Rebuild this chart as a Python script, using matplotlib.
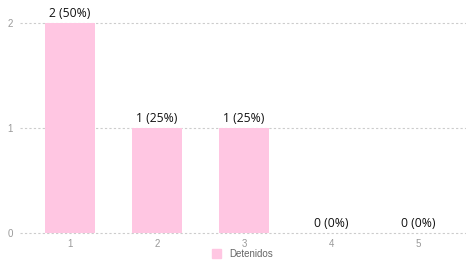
import matplotlib
matplotlib.use("Agg")
import matplotlib.pyplot as plt
from matplotlib.patches import Patch

categories = ["1", "2", "3", "4", "5"]
values = [2, 1, 1, 0, 0]
labels = ["2 (50%)", "1 (25%)", "1 (25%)", "0 (0%)", "0 (0%)"]
series_name = "Detenidos"
yticks = [0, 1, 2]

bar_color = "#ffc6e2"

fig = plt.figure(figsize=(4.66, 2.61), dpi=100)
ax = fig.add_axes([20 / 466, 0.107, 446 / 466, 0.805])

x = list(range(1, len(categories) + 1))
ax.bar(x, values, width=0.58, color=bar_color, zorder=2)

for xi, v, lab in zip(x, values, labels):
    ax.text(xi, v + 0.03, lab, ha="center", va="bottom", fontsize=8.7,
            family="Open Sans", color="#111111", clip_on=False, zorder=3)

ax.set_xlim(0.425, 5.55)
ax.set_ylim(0, 2)
ax.set_yticks(yticks)
ax.set_xticks(x)
ax.set_xticklabels(categories)
ax.grid(axis="y", color="#cccccc", linestyle=(0, (2, 2)), linewidth=0.8, zorder=1)
for gl in ax.get_ygridlines():
    gl.set_clip_on(False)
ax.set_axisbelow(True)
for s in ax.spines.values():
    s.set_visible(False)
ax.tick_params(axis="both", length=0, labelsize=7, labelcolor="#999999")
for t in ax.get_xticklabels() + ax.get_yticklabels():
    t.set_family("Liberation Sans")
ax.tick_params(axis="y", pad=5)
ax.tick_params(axis="x", pad=4)

fig.legend(handles=[Patch(color=bar_color, label=series_name)], loc="lower center",
           bbox_to_anchor=(0.52, -0.025), frameon=False,
           handlelength=1.0, handleheight=1.0, prop={"family": "Liberation Sans", "size": 7},
           labelcolor="#666666")

fig.savefig("out.png", dpi=100)
